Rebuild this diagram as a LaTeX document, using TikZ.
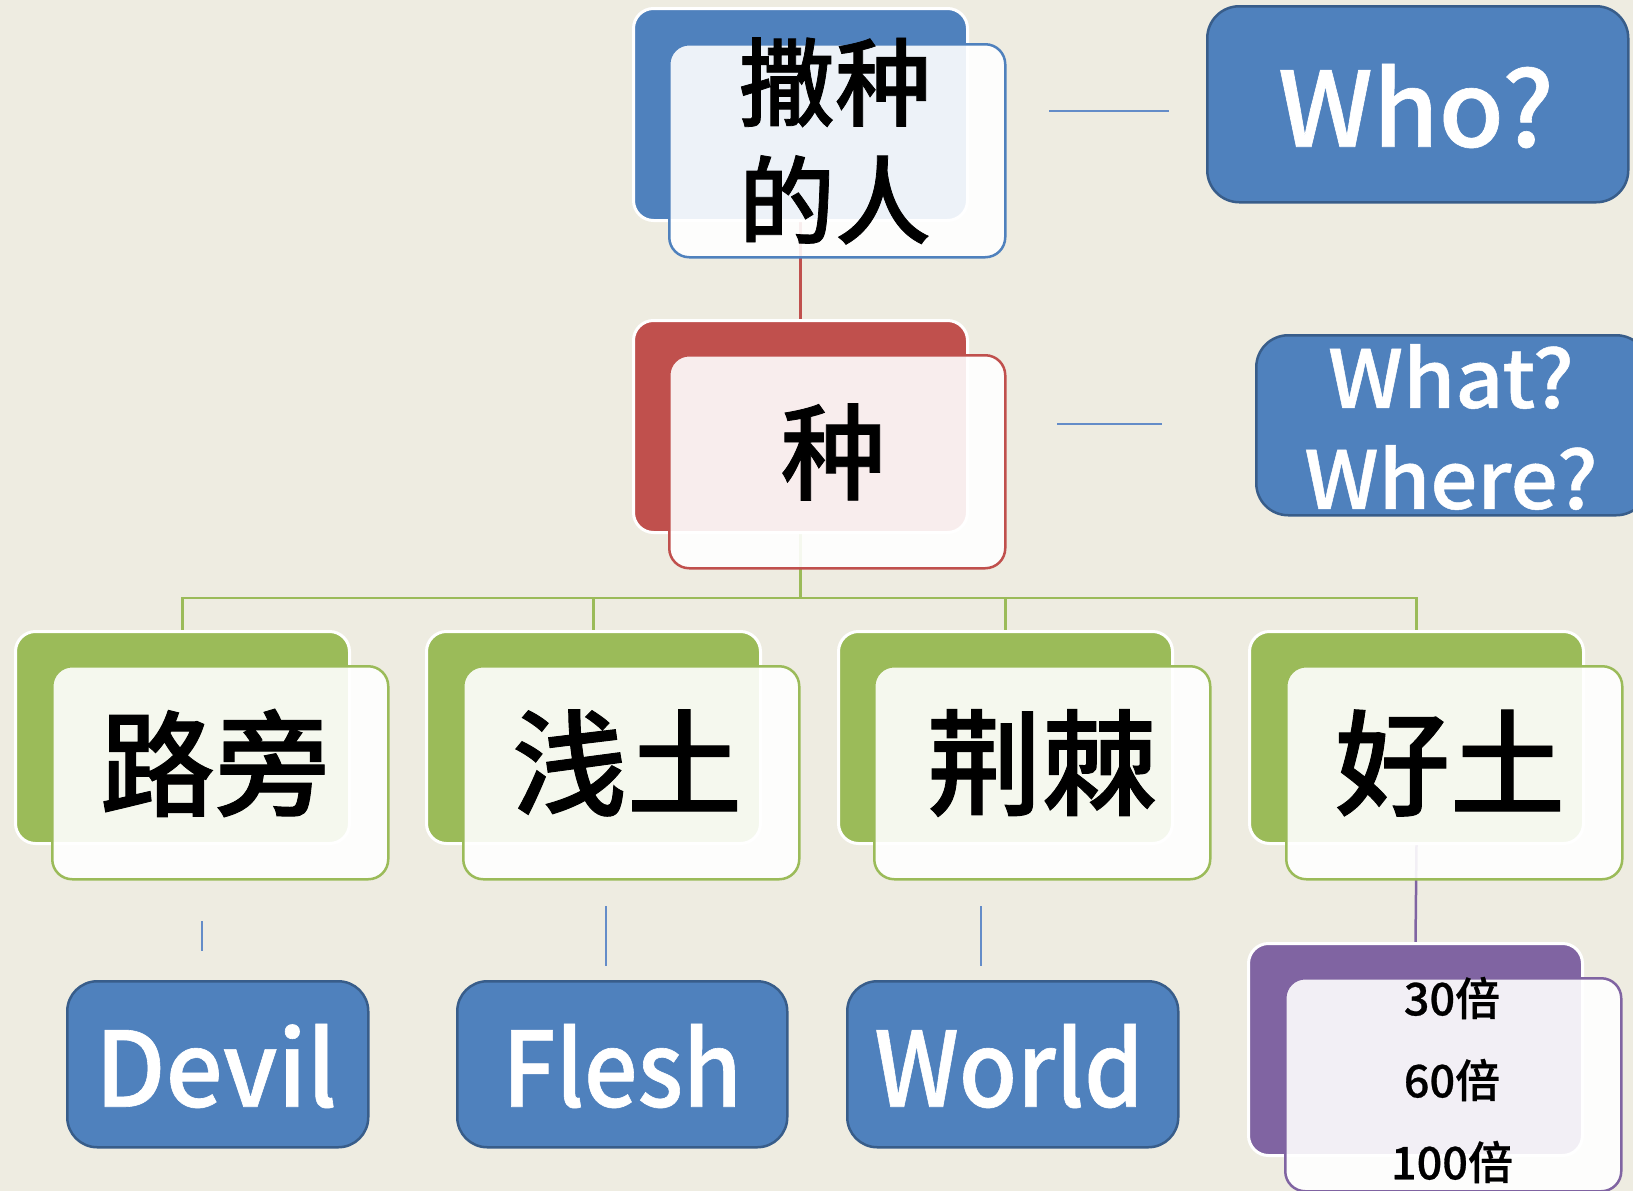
\documentclass[tikz,border=0pt]{standalone}
\usepackage{fontspec}
\usepackage{graphicx}
\setmainfont{Noto Sans CJK SC Medium}
\newfontfamily\cjkheavy{Noto Sans CJK SC Medium}[FakeBold=0.8]
\newfontfamily\latheavy{Noto Sans CJK SC Medium}[FakeBold=0.6]
\definecolor{bg}{RGB}{238,236,225}
\definecolor{cblue}{RGB}{79,129,189}
\definecolor{cbluedark}{RGB}{56,93,138}
\definecolor{cred}{RGB}{192,80,77}
\definecolor{cgreen}{RGB}{155,187,89}
\definecolor{cpurple}{RGB}{128,100,162}
\definecolor{cthin}{RGB}{100,140,200}
\pgfdeclarelayer{bglayer}
\pgfdeclarelayer{linelayer}
\pgfsetlayers{bglayer,linelayer,main}
\begin{document}
\begin{tikzpicture}[x=1pt,y=-1pt,
  backbox/.style={draw=white, line width=3pt, fill=#1, rounded corners=20pt,
    minimum width=334pt, minimum height=212pt, anchor=north west, inner sep=0pt},
  frontbox/.style={draw=#1, line width=2.5pt, fill=white, fill opacity=0.9,
    rounded corners=20pt, minimum width=336pt, minimum height=213pt,
    anchor=north west, inner sep=0pt},
  solidbox/.style={draw=cbluedark, line width=2.5pt, fill=cblue, rounded corners=32pt,
    anchor=north west, inner sep=0pt},
  conn/.style={line width=2.5pt, #1},
  thinline/.style={line width=2pt, cthin},
  cjktext/.style={inner sep=0pt, align=center, text=black},
  lattext/.style={inner sep=0pt, align=center, text=white,
    font=\fontsize{104}{120}\selectfont\latheavy},
]
\useasboundingbox (0,0) rectangle (1633,1191);
\begin{pgfonlayer}{bglayer}
  \fill[bg] (0,0) rectangle (1633,1191);
\end{pgfonlayer}

% back and front boxes
\node[backbox=cblue] (sowerB) at (632,7) {};
\node[backbox=cred] (seedB) at (632,319) {};
\node[backbox=cgreen] (pathB) at (14,630) {};
\node[backbox=cgreen] (shallowB) at (425,630) {};
\node[backbox=cgreen] (thornB) at (837,630) {};
\node[backbox=cgreen] (goodB) at (1248,630) {};
\node[backbox=cpurple] (yieldB) at (1247,942) {};

\node[frontbox=cblue] (sowerF) at (668,43) {};
\node[frontbox=cred] (seedF) at (668,354) {};
\node[frontbox=cgreen] (pathF) at (51,665) {};
\node[frontbox=cgreen] (shallowF) at (462,665) {};
\node[frontbox=cgreen] (thornF) at (873,665) {};
\node[frontbox=cgreen] (goodF) at (1285,665) {};
\node[frontbox=cpurple] (yieldF) at (1284,977) {};

% solid blue boxes
\node[solidbox, minimum width=421pt, minimum height=196pt] (who) at (1206,5) {};
\node[solidbox, minimum width=392pt, minimum height=180pt] (whatwhere) at (1255,334) {};
\node[solidbox, rounded corners=30pt, minimum width=301pt, minimum height=166pt] (devil) at (66,980) {};
\node[solidbox, rounded corners=30pt, minimum width=330pt, minimum height=166pt] (flesh) at (456,980) {};
\node[solidbox, rounded corners=30pt, minimum width=331pt, minimum height=166pt] (world) at (846,980) {};

% free ends of the short lines
\coordinate (w1) at (1049,111); \coordinate (w2) at (1169,111);
\coordinate (m1) at (1057,424); \coordinate (m2) at (1162,424);
\coordinate (d1) at (202,921); \coordinate (d2) at (202,951);
\coordinate (f1) at (606,906); \coordinate (f2) at (606,966);
\coordinate (o1) at (981,906); \coordinate (o2) at (981,966);
\coordinate (bus) at (0,598);

\begin{pgfonlayer}{linelayer}
  \draw[conn=cred] (sowerB.south) -- (seedB.north);
  \draw[conn=cgreen] (seedB.south) -- (seedB.south |- bus);
  \draw[conn=cgreen] (pathB.north) -- (pathB.north |- bus) -- (goodB.north |- bus) -- (goodB.north);
  \draw[conn=cgreen] (shallowB.north) -- (shallowB.north |- bus);
  \draw[conn=cgreen] (thornB.north) -- (thornB.north |- bus);
  \draw[conn=cpurple] (goodB.south) -- (yieldB.north);
  \draw[thinline] (w1) -- (w2);
  \draw[thinline] (m1) -- (m2);
  \draw[thinline] (d1) -- (d2);
  \draw[thinline] (f1) -- (f2);
  \draw[thinline] (o1) -- (o2);
\end{pgfonlayer}

% texts
\node[cjktext, font=\fontsize{96}{118}\selectfont\cjkheavy] (tsower) at (835,141) {撒种\\的人};
\node[cjktext, font=\fontsize{105}{120}\selectfont\cjkheavy] (tseed) at (833,452) {种};
\node[cjktext, font=\fontsize{115}{130}\selectfont\cjkheavy] (tpath) at (215,763) {路旁};
\node[cjktext, font=\fontsize{115}{130}\selectfont\cjkheavy] (tshallow) at (627,763) {浅土};
\node[cjktext, font=\fontsize{115}{130}\selectfont\cjkheavy] (tthorn) at (1042,763) {荆棘};
\node[cjktext, font=\fontsize{115}{130}\selectfont\cjkheavy] (tgood) at (1450,763) {好土};
\node[cjktext, font=\fontsize{45}{82}\selectfont\latheavy] (tyield) at (1452,1080) {30倍\\60倍\\100倍};

\node[lattext] (twho) at (1416,106) {\scalebox{1.02}[1]{Who?}};
\node[lattext, font=\fontsize{80}{101}\selectfont\latheavy] (twhat) at (1451,427) {\scalebox{1.05}[1]{What?}\\\scalebox{1.04}[1]{Where?}};
\node[lattext] (tdevil) at (216,1066) {\scalebox{0.97}[1]{Devil}};
\node[lattext] (tflesh) at (622,1066) {\scalebox{0.91}[1]{Flesh}};
\node[lattext] (tworld) at (1009,1066) {\scalebox{0.91}[1]{World}};
\end{tikzpicture}
\end{document}
